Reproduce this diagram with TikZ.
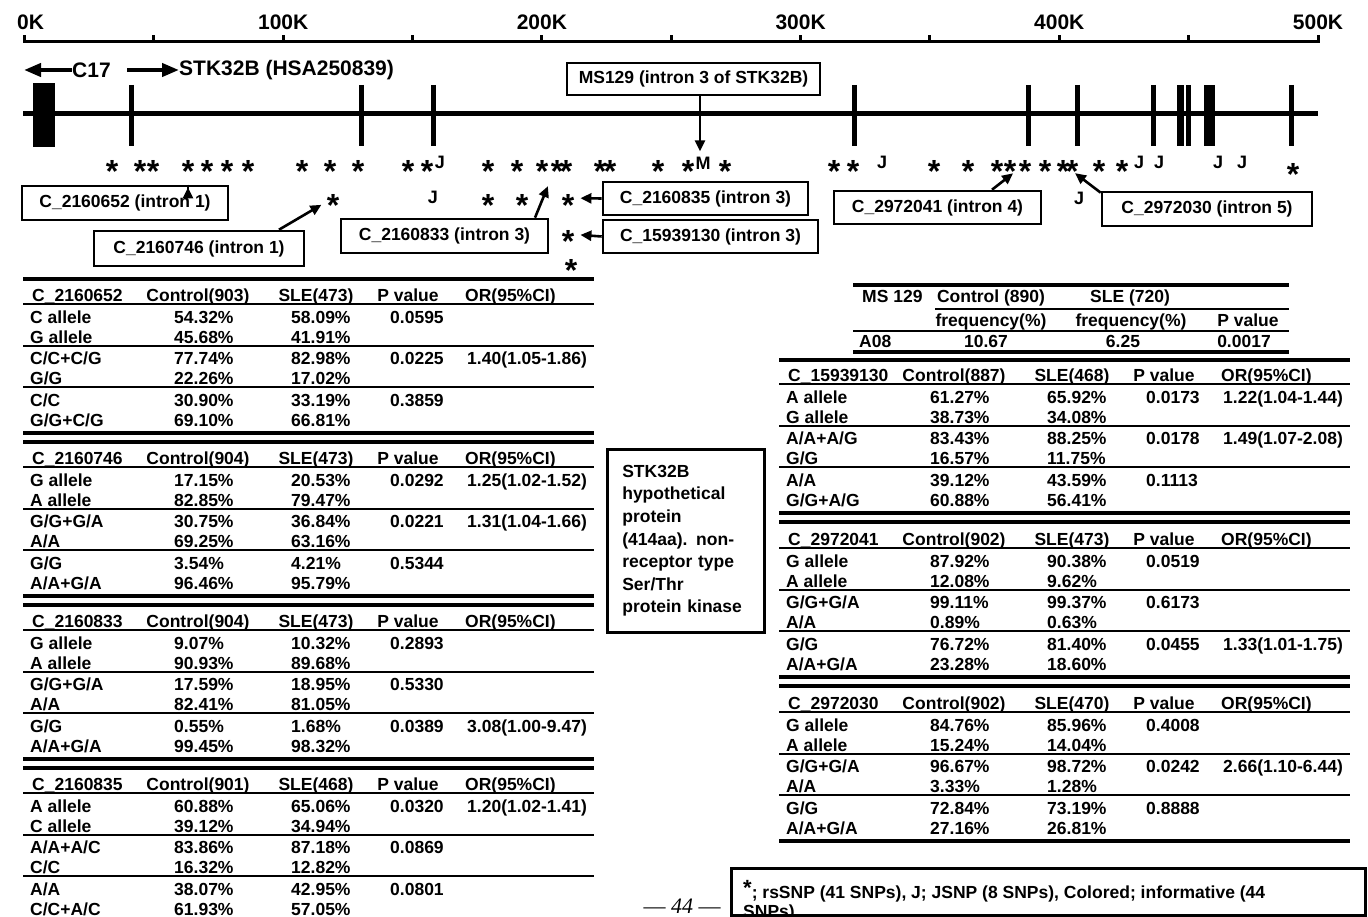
\documentclass[tikz,border=0pt]{standalone}
\usepackage{fontspec}
\setmainfont{Liberation Sans}
\newfontfamily\pagenumfont{Liberation Serif}
\usetikzlibrary{arrows.meta}
\newcounter{nd}
\tikzset{
  cell/.style={anchor=west,inner sep=0pt,font=\fontsize{17.5}{17.5}\selectfont\bfseries,text height=12.5pt,text depth=0pt},
  hcell/.style={cell,anchor=center},
  sn/.style={inner sep=0pt,font=\fontsize{32}{32}\selectfont\bfseries,text height=36.3pt,text depth=0pt,anchor=center},
  jm/.style={inner sep=0pt,font=\fontsize{18}{18}\selectfont\bfseries,text height=12.9pt,text depth=0pt,anchor=center},
  thinrule/.style={line width=2pt},
  thickrule/.style={line width=3.6pt},
  exon/.style={line width=5pt},
  lbox/.style={draw,line width=2.6pt,inner sep=0pt,font=\fontsize{17.5}{17.5}\selectfont\bfseries},
  arr/.style={line width=2.6pt,-{Triangle[length=11pt,width=10pt]},shorten >=5pt},
  bigarr/.style={line width=4pt,-{Triangle[length=17pt,width=13pt]}},
  rlabel/.style={inner sep=0pt,font=\fontsize{21}{21}\selectfont\bfseries},
}
\newcommand\snpstar[2]{\stepcounter{nd}\node[sn] (s\arabic{nd}) at (#1,#2) {*};}
\newcommand\snpj[2]{\stepcounter{nd}\node[jm] (j\arabic{nd}) at (#1,#2) {J};}
\newcommand\thead[6]{%
  \node[cell] (#6n) at (#1+9,#2) {#3};
  \node[hcell] (#6c) at (#1+175,#2) {#4};
  \node[hcell] (#6s) at (#1+293,#2) {#5};
  \node[hcell] (#6p) at (#1+385,#2) {P value};
  \node[cell] (#6o) at (#1+442,#2) {OR(95\%CI)};
  \draw[thinrule] (#1,#2+9) -- ++(571,0);
  \draw[thinrule] (#1,#2+51) -- ++(571,0);
  \draw[thinrule] (#1,#2+92) -- ++(571,0);}
\newcommand\trow[8]{%
  \node[cell] (#3a) at (#1+7,#2) {#4};
  \node[cell] (#3b) at (#1+151,#2) {#5};
  \node[cell] (#3c) at (#1+268,#2) {#6};
  \node[cell] (#3d) at (#1+367,#2) {#7};
  \node[cell] (#3e) at (#1+444,#2) {#8};}
\begin{document}
\begin{tikzpicture}[x=1pt,y=-1pt]
\fill[white] (0,0) rectangle (1368,917);
\useasboundingbox (0,0) rectangle (1368,917);
% ruler
\draw[line width=3pt] (24.5,42) -- (1318,42);
\foreach \k in {0,50,...,500} \draw[line width=3pt] (24.5+2.587*\k,43) -- ++(0,-8);
\node[rlabel,anchor=west] (r0) at (17,22) {0K};
\node[rlabel] (r100) at (283.2,22) {100K};
\node[rlabel] (r200) at (541.9,22) {200K};
\node[rlabel] (r300) at (800.6,22) {300K};
\node[rlabel] (r400) at (1059.3,22) {400K};
\node[rlabel] (r500) at (1318,22) {500K};
% genes
\node[rlabel,anchor=west] (c17) at (72,70) {C17};
\coordinate (c17l) at (24,70);
\draw[bigarr] (c17.west) -- (c17l);
\coordinate (stka) at (127,70);
\node[rlabel,anchor=west] (stk) at (179,70) {STK32B (HSA250839)};
\draw[bigarr] (stka) -- (stk.west);
% gene line and exons
\draw[line width=5pt] (23,114) -- (1318,114);
\fill (33,83) rectangle (55,147);
\foreach \x in {131,361,433,854,1028,1077,1153,1291} \draw[exon] (\x,85) -- (\x,146);
\fill (1177,85) rectangle (1183.5,146);
\fill (1185.5,85) rectangle (1191,146);
\fill (1204,85) rectangle (1215,146);
% stars row 1
\foreach \x in {112,140,153,207,227,248,302,330,358,408,427,488,517,542,566,600,610,658,688,725,834,853,934,968,997,1010,1045,1072,1099,1122} {\snpstar{\x}{164}}
\snpstar{1293}{167}
\node[sn] (s652) at (188,164) {*};
\node[sn] (s833) at (557,164) {*};
\node[sn] (s041) at (1025,164) {*};
\node[sn] (s030) at (1063,164) {*};
\foreach \x in {440,882,1139,1159,1218,1242} {\snpj{\x}{162}}
\node[jm] (mM) at (703,163) {M};
% row 2
\snpj{433}{197}
\snpj{1079}{198}
\node[sn] (s746) at (333,198) {*};
\snpstar{488}{198}
\snpstar{522}{198}
\node[sn] (s835) at (568,198) {*};
\node[sn] (s130) at (568,234) {*};
\snpstar{571}{263}
% label boxes
\node[lbox,minimum width=206pt,minimum height=34pt] (b652) at (125,203) {C\_2160652 (intron 1)};
\node[lbox,minimum width=210pt,minimum height=35pt] (b746) at (199,248.5) {C\_2160746 (intron 1)};
\node[lbox,minimum width=207pt,minimum height=34pt] (b833) at (444.5,236) {C\_2160833 (intron 3)};
\node[lbox,minimum width=205pt,minimum height=33pt] (b835) at (705.5,198.5) {C\_2160835 (intron 3)};
\node[lbox,minimum width=215pt,minimum height=33pt] (b130) at (710.5,236.5) {C\_15939130 (intron 3)};
\node[lbox,minimum width=253pt,minimum height=32pt] (bms) at (693.5,79) {MS129 (intron 3 of STK32B)};
\node[lbox,minimum width=207pt,minimum height=33pt] (b041) at (937.5,207.5) {C\_2972041 (intron 4)};
\node[lbox,minimum width=210pt,minimum height=34pt] (b030) at (1207,209) {C\_2972030 (intron 5)};
% arrows
\draw[arr] ([xshift=63pt]b652.north) -- (s652);
\draw[arr,shorten >=6pt] ([xshift=80pt]b746.north) -- (s746);
\draw[arr,shorten >=7pt] ([xshift=90.5pt]b833.north) -- (s833);
\draw[arr,shorten >=6pt] (b835.west) -- (s835);
\draw[arr,shorten >=6pt] (b130.west) -- (s130);
\draw[arr,shorten >=0pt] ([xshift=6.5pt]bms.south) -- ([xshift=-3pt,yshift=5pt]mM.north);
\draw[arr,shorten >=7pt] ([xshift=54.5pt]b041.north) -- (s041);
\draw[arr,shorten >=7pt] ([yshift=-2pt]b030.north west) -- (s030);
% left tables
\draw[thickrule] (23,279) -- ++(571,0);
\thead{23}{295}{C\_2160652}{Control(903)}{SLE(473)}{LA}
\trow{23}{317}{LA1}{C allele}{54.32\%}{58.09\%}{0.0595}{}
\trow{23}{337}{LA2}{G allele}{45.68\%}{41.91\%}{}{}
\trow{23}{358}{LA3}{C/C+C/G}{77.74\%}{82.98\%}{0.0225}{1.40(1.05-1.86)}
\trow{23}{378}{LA4}{G/G}{22.26\%}{17.02\%}{}{}
\trow{23}{400}{LA5}{C/C}{30.90\%}{33.19\%}{0.3859}{}
\trow{23}{420}{LA6}{G/G+C/G}{69.10\%}{66.81\%}{}{}
\draw[thickrule] (23,433) -- ++(571,0);
\draw[thickrule] (23,442) -- ++(571,0);
\thead{23}{458}{C\_2160746}{Control(904)}{SLE(473)}{LB}
\trow{23}{480}{LB1}{G allele}{17.15\%}{20.53\%}{0.0292}{1.25(1.02-1.52)}
\trow{23}{500}{LB2}{A allele}{82.85\%}{79.47\%}{}{}
\trow{23}{521}{LB3}{G/G+G/A}{30.75\%}{36.84\%}{0.0221}{1.31(1.04-1.66)}
\trow{23}{541}{LB4}{A/A}{69.25\%}{63.16\%}{}{}
\trow{23}{563}{LB5}{G/G}{3.54\%}{4.21\%}{0.5344}{}
\trow{23}{583}{LB6}{A/A+G/A}{96.46\%}{95.79\%}{}{}
\draw[thickrule] (23,596) -- ++(571,0);
\draw[thickrule] (23,605) -- ++(571,0);
\thead{23}{621}{C\_2160833}{Control(904)}{SLE(473)}{LC}
\trow{23}{643}{LC1}{G allele}{9.07\%}{10.32\%}{0.2893}{}
\trow{23}{663}{LC2}{A allele}{90.93\%}{89.68\%}{}{}
\trow{23}{684}{LC3}{G/G+G/A}{17.59\%}{18.95\%}{0.5330}{}
\trow{23}{704}{LC4}{A/A}{82.41\%}{81.05\%}{}{}
\trow{23}{726}{LC5}{G/G}{0.55\%}{1.68\%}{0.0389}{3.08(1.00-9.47)}
\trow{23}{746}{LC6}{A/A+G/A}{99.45\%}{98.32\%}{}{}
\draw[thickrule] (23,759) -- ++(571,0);
\draw[thickrule] (23,768) -- ++(571,0);
\thead{23}{784}{C\_2160835}{Control(901)}{SLE(468)}{LD}
\trow{23}{806}{LD1}{A allele}{60.88\%}{65.06\%}{0.0320}{1.20(1.02-1.41)}
\trow{23}{826}{LD2}{C allele}{39.12\%}{34.94\%}{}{}
\trow{23}{847}{LD3}{A/A+A/C}{83.86\%}{87.18\%}{0.0869}{}
\trow{23}{867}{LD4}{C/C}{16.32\%}{12.82\%}{}{}
\trow{23}{889}{LD5}{A/A}{38.07\%}{42.95\%}{0.0801}{}
\trow{23}{909}{LD6}{C/C+A/C}{61.93\%}{57.05\%}{}{}
% middle box
\node[draw,line width=2.6pt,anchor=north west,inner xsep=15pt,inner ysep=0pt,text width=127pt,minimum height=183pt,align=left,font=\fontsize{17.5}{22.6}\selectfont\bfseries] (prot) at (606,448) {STK32B\\hypothetical\\protein\\(414aa). non-\\receptor type\\Ser/Thr\\protein kinase};
% MS129 table
\draw[thickrule] (853,285) -- (1289,285);
\node[cell] (m1) at (862,296) {MS 129};
\node[hcell] (m2) at (991,296) {Control (890)};
\node[hcell] (m3) at (1130,296) {SLE (720)};
\draw[thinrule] (935,309) -- (1289,309);
\node[hcell] (m4) at (991,320) {frequency(\%)};
\node[hcell] (m5) at (1131,320) {frequency(\%)};
\node[hcell] (m6) at (1248,320) {P value};
\draw[thinrule] (853,331) -- (1289,331);
\node[cell] (m7) at (859,341) {A08};
\node[hcell] (m8) at (986,341) {10.67};
\node[hcell] (m9) at (1123,341) {6.25};
\node[hcell] (m10) at (1244,341) {0.0017};
\draw[thickrule] (853,352) -- (1289,352);
% right tables
\draw[thickrule] (779,360) -- ++(571,0);
\thead{779}{375}{C\_15939130}{Control(887)}{SLE(468)}{RA}
\trow{779}{397}{RA1}{A allele}{61.27\%}{65.92\%}{0.0173}{1.22(1.04-1.44)}
\trow{779}{417}{RA2}{G allele}{38.73\%}{34.08\%}{}{}
\trow{779}{438}{RA3}{A/A+A/G}{83.43\%}{88.25\%}{0.0178}{1.49(1.07-2.08)}
\trow{779}{458}{RA4}{G/G}{16.57\%}{11.75\%}{}{}
\trow{779}{480}{RA5}{A/A}{39.12\%}{43.59\%}{0.1113}{}
\trow{779}{500}{RA6}{G/G+A/G}{60.88\%}{56.41\%}{}{}
\draw[thickrule] (779,513) -- ++(571,0);
\draw[thickrule] (779,522) -- ++(571,0);
\thead{779}{539}{C\_2972041}{Control(902)}{SLE(473)}{RB}
\trow{779}{561}{RB1}{G allele}{87.92\%}{90.38\%}{0.0519}{}
\trow{779}{581}{RB2}{A allele}{12.08\%}{9.62\%}{}{}
\trow{779}{602}{RB3}{G/G+G/A}{99.11\%}{99.37\%}{0.6173}{}
\trow{779}{622}{RB4}{A/A}{0.89\%}{0.63\%}{}{}
\trow{779}{644}{RB5}{G/G}{76.72\%}{81.40\%}{0.0455}{1.33(1.01-1.75)}
\trow{779}{664}{RB6}{A/A+G/A}{23.28\%}{18.60\%}{}{}
\draw[thickrule] (779,677) -- ++(571,0);
\draw[thickrule] (779,686) -- ++(571,0);
\thead{779}{703}{C\_2972030}{Control(902)}{SLE(470)}{RC}
\trow{779}{725}{RC1}{G allele}{84.76\%}{85.96\%}{0.4008}{}
\trow{779}{745}{RC2}{A allele}{15.24\%}{14.04\%}{}{}
\trow{779}{766}{RC3}{G/G+G/A}{96.67\%}{98.72\%}{0.0242}{2.66(1.10-6.44)}
\trow{779}{786}{RC4}{A/A}{3.33\%}{1.28\%}{}{}
\trow{779}{808}{RC5}{G/G}{72.84\%}{73.19\%}{0.8888}{}
\trow{779}{828}{RC6}{A/A+G/A}{27.16\%}{26.81\%}{}{}
\draw[thickrule] (779,841) -- ++(571,0);
% legend
\node[cell,font=\fontsize{17.5}{17.5}\selectfont\bfseries] (leg1) at (743,892) {\raisebox{3pt}{\fontsize{22}{22}\selectfont *}; rsSNP (41 SNPs), J; JSNP (8 SNPs), Colored; informative (44};
\node[cell,font=\fontsize{17.5}{17.5}\selectfont\bfseries] (leg2) at (743,911) {SNPs)};
\node[draw,line width=2.6pt,anchor=north west,minimum width=634pt,minimum height=47pt,inner sep=0pt] (legend) at (730,867) {};
\node[font=\pagenumfont\fontsize{22}{22}\selectfont,inner sep=0pt] (pg) at (682,906) {\textemdash\ \textit{44} \textemdash};
\end{tikzpicture}
\end{document}
